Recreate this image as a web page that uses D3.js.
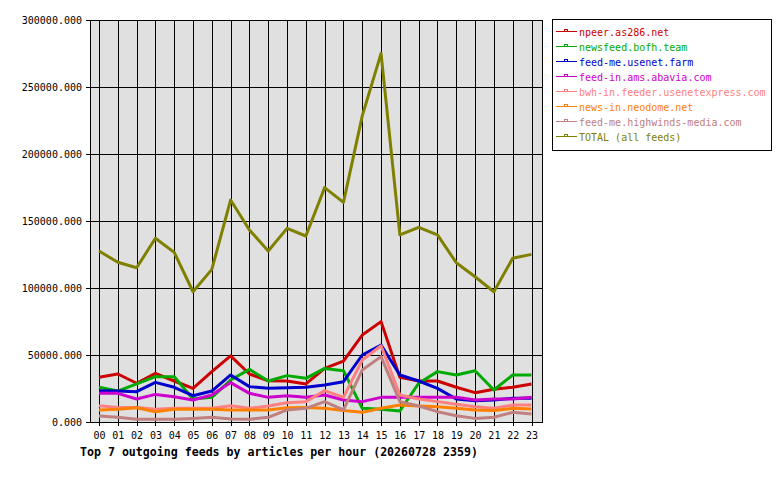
<!DOCTYPE html>
<html lang="en">
<head>
<meta charset="UTF-8" />
<title>Top 7 outgoing feeds</title>
<script src="https://d3js.org/d3.v7.min.js"></script>
<style>
  body { margin: 0; background: #fff; }
  svg { display: block; }
  text { font-family: "DejaVu Sans Mono", monospace; font-size: 10px; fill: #000; }
  .title { font-weight: bold; font-size: 11.6px; }
</style>
</head>
<body>
<svg id="chart"></svg>
<script>
// hours on the x axis
const hours = ["00","01","02","03","04","05","06","07","08","09","10","11",
               "12","13","14","15","16","17","18","19","20","21","22","23"];
const yTicks = [0, 50000, 100000, 150000, 200000, 250000, 300000];

const feedNames = [
  "npeer.as286.net",
  "newsfeed.bofh.team",
  "feed-me.usenet.farm",
  "feed-in.ams.abavia.com",
  "bwh-in.feeder.usenetexpress.com",
  "news-in.neodome.net",
  "feed-me.highwinds-media.com",
  "TOTAL (all feeds)"
];
const feedColors = ["#cc0000", "#00aa00", "#0000cc", "#cc00cc", "#ff8080", "#ff8000", "#c08080", "#808000"];

// articles per hour
const npeer = [33400, 35800, 28900, 36300, 30600, 25100, 37600, 49300, 35800, 30800, 30600, 28400,
               40000, 45500, 64900, 74900, 33300, 30600, 30600, 25900, 21900, 24400, 25900, 28400];
const bofh = [25900, 23100, 28400, 33800, 33800, 17200, 18400, 31300, 39300, 30600, 34600, 32600,
              40000, 38300, 10200, 9500, 8200, 28900, 37600, 35100, 38300, 23900, 35100, 35100];
const usenetFarm = [23400, 23100, 22600, 29600, 25900, 19600, 23100, 35100, 26400, 25100, 25600, 25900,
                    27600, 30100, 50000, 57500, 35100, 30600, 25100, 17200, 15900, 16400, 17700, 17700];
const abavia = [21400, 21400, 17200, 20600, 18900, 16400, 20100, 29400, 21400, 18400, 19600, 18400,
                20100, 16400, 15200, 18400, 18400, 18400, 18400, 18400, 16400, 17200, 17200, 18400];
const usenetExpress = [12200, 10900, 10900, 9500, 10200, 10200, 10200, 12200, 10200, 11900, 14400, 15200,
                       23400, 18400, 46300, 56900, 20100, 17200, 15200, 13200, 11400, 10200, 12700, 12700];
const neodome = [9000, 9500, 10700, 7700, 9500, 9500, 9500, 9000, 9000, 9000, 10700, 10900,
                 10200, 8500, 7200, 10200, 12700, 11900, 11400, 10200, 9000, 8500, 10200, 9700];
const highwinds = [4500, 3500, 2000, 2000, 2000, 2700, 3500, 2200, 2000, 3500, 9000, 10200,
                   15200, 9000, 38800, 48800, 15200, 11900, 7700, 4700, 2700, 3500, 7200, 6000];
const total = [127600, 119200, 115100, 137100, 126600, 97200, 113900, 165700, 143300, 127600, 144500, 138800,
               174900, 163900, 228500, 275100, 139600, 145300, 139600, 118900, 108400, 97200, 122200, 125100];

const seriesValues = [npeer, bofh, usenetFarm, abavia, usenetExpress, neodome, highwinds, total];

const W = 780, H = 480;
const plot = { left: 90, top: 20, right: 542, bottom: 422 };

const svg = d3.select("#chart").attr("width", W).attr("height", H);

const x = d3.scalePoint().domain(hours).range([99, 531.5]);
const y = d3.scaleLinear().domain([0, 300000]).range([plot.bottom, plot.top]);

// plot background
svg.append("rect")
  .attr("x", plot.left).attr("y", plot.top)
  .attr("width", plot.right - plot.left).attr("height", plot.bottom - plot.top)
  .attr("fill", "#e0e0e0");

// grid
const grid = svg.append("g").attr("stroke", "#000").attr("stroke-width", 1).attr("shape-rendering", "crispEdges");
grid.selectAll("line.v").data(hours).join("line")
  .attr("x1", d => Math.round(x(d)) + 0.5).attr("x2", d => Math.round(x(d)) + 0.5)
  .attr("y1", plot.top).attr("y2", plot.bottom + 4);
grid.selectAll("line.h").data(yTicks).join("line")
  .attr("x1", plot.left - 4).attr("x2", plot.right)
  .attr("y1", d => Math.round(y(d)) + 0.5).attr("y2", d => Math.round(y(d)) + 0.5);
svg.append("rect")
  .attr("x", plot.left + 0.5).attr("y", plot.top + 0.5)
  .attr("width", plot.right - plot.left).attr("height", plot.bottom - plot.top)
  .attr("fill", "none").attr("stroke", "#000").attr("shape-rendering", "crispEdges");

// axis labels
svg.append("g").selectAll("text").data(yTicks).join("text")
  .attr("x", 82).attr("y", d => y(d) + 3.5)
  .attr("text-anchor", "end")
  .text(d => d3.format(".3f")(d));

svg.append("g").selectAll("text").data(hours).join("text")
  .attr("x", d => x(d) + 0.5).attr("y", 438.5)
  .attr("text-anchor", "middle")
  .text(d => d);

svg.append("text").attr("class", "title")
  .attr("x", 80).attr("y", 455.5)
  .text("Top 7 outgoing feeds by articles per hour (20260728 2359)");

// series lines
const line = d3.line().x((d, i) => x(hours[i])).y(d => y(d));
svg.append("g").selectAll("path").data(seriesValues).join("path")
  .attr("fill", "none")
  .attr("stroke", (d, i) => feedColors[i])
  .attr("stroke-width", 3)
  .attr("stroke-linejoin", "round")
  .attr("d", line);

// legend
const legend = svg.append("g");
legend.append("rect")
  .attr("x", 552.5).attr("y", 19.5).attr("width", 219).attr("height", 131)
  .attr("fill", "#fff").attr("stroke", "#000").attr("shape-rendering", "crispEdges");
const rows = legend.selectAll("g").data(feedNames).join("g")
  .attr("transform", (d, i) => "translate(0," + (31 + i * 15) + ")");
rows.append("line")
  .attr("x1", 556).attr("x2", 577).attr("y1", 0.5).attr("y2", 0.5)
  .attr("stroke", (d, i) => feedColors[i]).attr("shape-rendering", "crispEdges");
rows.append("rect")
  .attr("x", 564.5).attr("y", -1.5).attr("width", 3).attr("height", 2)
  .attr("fill", "none").attr("stroke", (d, i) => feedColors[i]).attr("shape-rendering", "crispEdges");
rows.append("text")
  .attr("x", 579).attr("y", 5)
  .style("fill", (d, i) => feedColors[i])
  .text(d => d);
</script>
</body>
</html>
